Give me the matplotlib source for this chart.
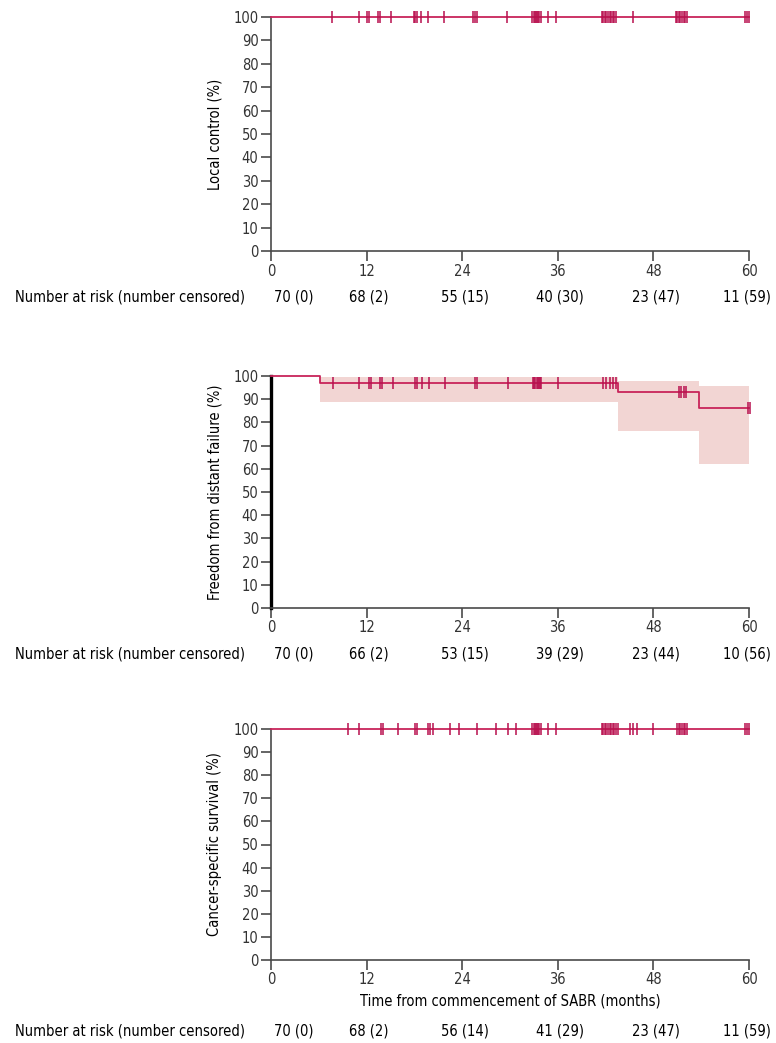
import matplotlib
matplotlib.use('Agg')
import matplotlib.pyplot as plt

plt.rcParams['font.family'] = ['DejaVu Sans']
plt.rcParams['font.stretch'] = 'condensed'
plt.rcParams['font.size'] = 10.5

LINE_COLOR = '#C8245A'
MARK_COLOR = '#B8104E'
BAND_COLOR = '#F2D5D3'
AXIS_COLOR = '#4a4a4a'

x_ticks = [0, 12, 24, 36, 48, 60]
y_ticks = [0, 10, 20, 30, 40, 50, 60, 70, 80, 90, 100]

# local control: no events, only censored patients
lc_censor = [7.6, 11.0, 12.1, 12.3, 13.4, 13.7, 15.1, 17.9, 18.1, 18.3, 18.8, 19.7, 21.7,
             25.4, 25.6, 25.8, 29.6,
             32.8, 32.95, 33.1, 33.25, 33.4, 33.55, 33.7, 33.85, 34.8, 35.8,
             41.5, 41.7, 41.9, 42.1, 42.3, 42.5, 42.7, 42.9, 43.1, 43.3, 45.4,
             50.8, 51.0, 51.2, 51.4, 51.6, 51.8, 52.0, 52.2,
             59.5, 59.8, 60.0]
lc_risk = ['70 (0)', '68 (2)', '55 (15)', '40 (30)', '23 (47)', '11 (59)']

# freedom from distant failure: step curve and 95% CI
dff_time = [0, 6.15, 43.6, 53.7, 60]
dff_surv = [100, 97.1, 93.0, 86.3, 86.3]
dff_lower = [100, 88.9, 76.2, 62.1, 62.1]
dff_upper = [100, 99.4, 98.0, 95.7, 95.7]
dff_censor = [7.8, 11.0, 12.3, 12.5, 13.7, 13.9, 15.3, 18.1, 18.3, 18.9, 19.8, 21.8,
              25.6, 25.8, 29.8,
              32.9, 33.05, 33.2, 33.35, 33.5, 33.65, 33.8, 33.95, 36.0,
              41.7, 42.1, 42.5, 42.9, 43.3,
              51.2, 51.5, 51.8, 52.1, 59.9, 60.1]
dff_risk = ['70 (0)', '66 (2)', '53 (15)', '39 (29)', '23 (44)', '10 (56)']

# cancer-specific survival: no events
css_censor = [9.7, 11.0, 13.8, 14.1, 16.0, 18.1, 18.3, 19.7, 20.0, 20.3, 22.5, 23.6,
              25.9, 28.2, 29.7, 30.8,
              32.8, 32.95, 33.1, 33.25, 33.4, 33.55, 33.7, 33.85, 34.8, 35.8,
              41.5, 41.7, 41.9, 42.1, 42.3, 42.5, 42.7, 42.9, 43.1, 43.3, 43.5,
              45.1, 45.5, 45.9, 47.9,
              51.0, 51.2, 51.4, 51.6, 51.8, 52.0, 52.2, 59.5, 59.8, 60.0]
css_risk = ['70 (0)', '68 (2)', '56 (14)', '41 (29)', '23 (47)', '11 (59)']

W, H = 776, 1043
fig = plt.figure(figsize=(W / 100, H / 100), dpi=100)


def make_axes(top_px, bottom_px):
    left = 271 / W
    width = (749 - 271) / W
    ax = fig.add_axes([left, 1 - bottom_px / H, width, (bottom_px - top_px) / H])
    ax.set_xlim(0, 60)
    ax.set_ylim(0, 100)
    ax.set_xticks(x_ticks)
    ax.set_yticks(y_ticks)
    for s in ['top', 'right']:
        ax.spines[s].set_visible(False)
    for s in ['left', 'bottom']:
        ax.spines[s].set_color(AXIS_COLOR)
        ax.spines[s].set_linewidth(1.2)
    ax.tick_params(length=7, width=1.2, color=AXIS_COLOR, labelsize=10.5, pad=2,
                   labelcolor='#333333')
    return ax


def censor_marks(ax, times, surv_at):
    ys = [surv_at(t) for t in times]
    ax.plot(times, ys, linestyle='none', marker='|', markersize=9, mew=1.1,
            color=MARK_COLOR, clip_on=False, zorder=4)


def risk_row(ax, labels, y_off):
    ax.text(-32.1, y_off, 'Number at risk (number censored)', ha='left', va='center',
            fontsize=10.5, transform=ax.get_xaxis_transform(), clip_on=False)
    for i, (t, lab) in enumerate(zip(x_ticks, labels)):
        if i == 0:
            ax.text(0.4, y_off, lab, ha='left', va='center', fontsize=10.5,
                    transform=ax.get_xaxis_transform(), clip_on=False)
        elif i == len(labels) - 1:
            ax.text(62.8, y_off, lab, ha='right', va='center', fontsize=10.5,
                    transform=ax.get_xaxis_transform(), clip_on=False)
        else:
            ax.text(t + 0.3, y_off, lab, ha='center', va='center', fontsize=10.5,
                    transform=ax.get_xaxis_transform(), clip_on=False)


# panel 1: local control
ax1 = make_axes(17, 251)
ax1.plot([0, 60], [100, 100], color=LINE_COLOR, lw=1.3, clip_on=False, zorder=3)
censor_marks(ax1, lc_censor, lambda t: 100)
ax1.set_ylabel('Local control (%)', fontsize=10.5, labelpad=8)
risk_row(ax1, lc_risk, -0.195)

# panel 2: freedom from distant failure
ax2 = make_axes(376, 608)
ax2.fill_between(dff_time[1:], dff_lower[1:], dff_upper[1:], step='post',
                 color=BAND_COLOR, lw=0, zorder=1)
ax2.step(dff_time, dff_surv, where='post', color=LINE_COLOR, lw=1.3,
         clip_on=False, zorder=3)


def dff_at(t):
    val = dff_surv[0]
    for tt, s in zip(dff_time, dff_surv):
        if t >= tt:
            val = s
    return val


censor_marks(ax2, dff_censor, dff_at)
ax2.spines['left'].set_color('black')
ax2.spines['left'].set_linewidth(2.4)
ax2.set_ylabel('Freedom from distant failure (%)', fontsize=10.5, labelpad=8)
risk_row(ax2, dff_risk, -0.2)

# panel 3: cancer-specific survival
ax3 = make_axes(729, 960)
ax3.plot([0, 60], [100, 100], color=LINE_COLOR, lw=1.3, clip_on=False, zorder=3)
censor_marks(ax3, css_censor, lambda t: 100)
ax3.set_ylabel('Cancer-specific survival (%)', fontsize=10.5, labelpad=8)
ax3.set_xlabel('Time from commencement of SABR (months)', fontsize=10.5, labelpad=4)
risk_row(ax3, css_risk, -0.307)

fig.savefig('out.png', dpi=100)
